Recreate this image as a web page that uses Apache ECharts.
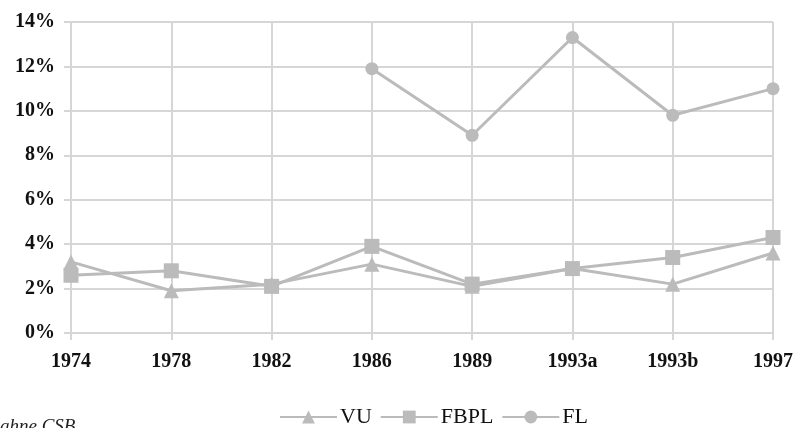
<!DOCTYPE html>
<html>
<head>
<meta charset="utf-8">
<script src="https://cdn.jsdelivr.net/npm/echarts@6/dist/echarts.min.js"></script>
<style>
  html, body { margin: 0; padding: 0; background: #ffffff; }
  #chart { width: 796px; height: 428px; }
</style>
</head>
<body>
<div id="chart"></div>
<script>
// Election years (two elections in 1993)
var years = ['1974', '1978', '1982', '1986', '1989', '1993a', '1993b', '1997'];
// Vote shares in percent
var vu   = [3.2, 1.9, 2.2, 3.1, 2.1, 2.9, 2.2, 3.6];
var fbpl = [2.6, 2.8, 2.1, 3.9, 2.2, 2.9, 3.4, 4.3];
var fl   = [null, null, null, 11.9, 8.9, 13.3, 9.8, 11.0];
var seriesNames = ['VU', 'FBPL', 'FL'];
var footnote = 'ahne CSB';

var gridColor = '#d6d6d6';
var markColor = '#bbbbbb';
var labelFont = { fontFamily: 'Liberation Serif', fontWeight: 'bold', fontSize: 20, color: '#111111' };

function lineSeries(name, data, symbol, size) {
  return {
    name: name,
    type: 'line',
    data: data,
    symbol: symbol,
    symbolSize: size,
    showAllSymbol: true,
    connectNulls: false,
    animation: false,
    lineStyle: { color: markColor, width: 3 },
    itemStyle: { color: markColor },
    emphasis: { disabled: true }
  };
}

var chart = echarts.init(document.getElementById('chart'), null, { renderer: 'canvas' });
chart.setOption({
  animation: false,
  backgroundColor: '#ffffff',
  grid: { left: 71, right: 21, top: 22, bottom: 95, containLabel: false },
  legend: {
    left: 274,
    top: 401,
    itemWidth: 57,
    itemHeight: 16,
    itemGap: 8,
    data: seriesNames,
    textStyle: { fontFamily: 'Liberation Serif', fontSize: 22, color: '#111111', padding: [0, 0, 0, -2] }
  },
  xAxis: {
    type: 'category',
    data: years,
    boundaryGap: false,
    axisLine: { show: true, lineStyle: { color: gridColor, width: 2 } },
    axisTick: { show: true, length: 7, alignWithLabel: true, lineStyle: { color: gridColor, width: 2 } },
    splitLine: { show: true, lineStyle: { color: gridColor, width: 2 } },
    axisLabel: Object.assign({ margin: 19, interval: 0 }, labelFont)
  },
  yAxis: {
    type: 'value',
    min: 0,
    max: 14,
    interval: 2,
    axisLine: { show: false },
    axisTick: { show: true, length: 7, lineStyle: { color: gridColor, width: 2 } },
    splitLine: { show: true, lineStyle: { color: gridColor, width: 2 } },
    axisLabel: Object.assign({ margin: 16, formatter: '{value}%' }, labelFont)
  },
  series: [
    lineSeries('VU', vu, 'triangle', 15),
    lineSeries('FBPL', fbpl, 'rect', 15),
    lineSeries('FL', fl, 'circle', 13)
  ],
  graphic: [{
    type: 'text',
    left: 0,
    top: 417,
    style: {
      text: footnote,
      fontFamily: 'Liberation Serif',
      fontStyle: 'italic',
      fontSize: 19,
      fill: '#222222'
    }
  }]
});
</script>
</body>
</html>
